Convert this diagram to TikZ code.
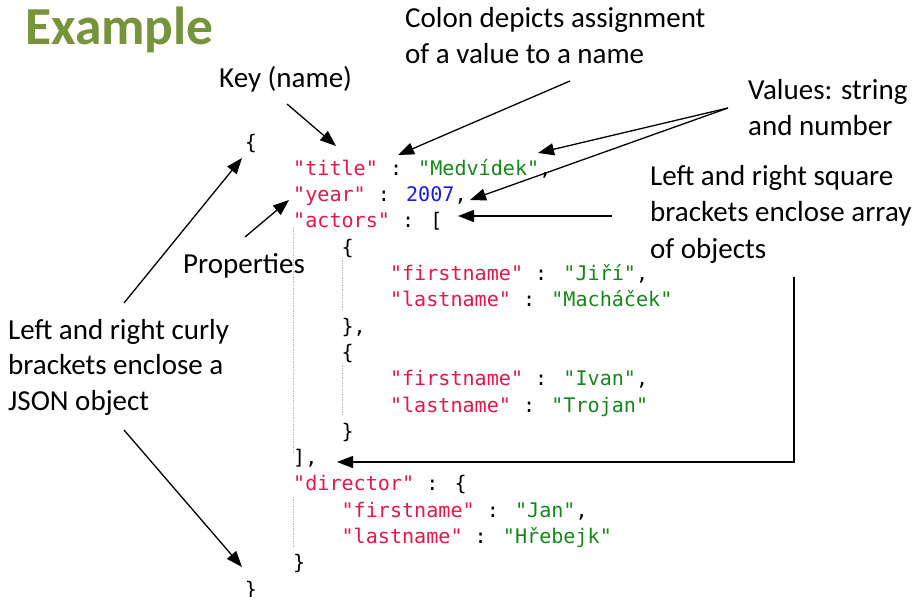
\documentclass[tikz,border=0pt]{standalone}
\usepackage{fontspec}
\setmainfont{Carlito}
\newfontfamily\codefont{DejaVu Sans Mono}
\usetikzlibrary{arrows.meta}

\definecolor{titlegreen}{HTML}{77933C}
\definecolor{keyred}{HTML}{E3174B}
\definecolor{strgreen}{HTML}{16861A}
\definecolor{numblue}{HTML}{1B1BE0}
\newcommand{\jkey}[1]{\textcolor{keyred}{#1}}
\newcommand{\jstr}[1]{\textcolor{strgreen}{#1}}
\newcommand{\jnum}[1]{\textcolor{numblue}{#1}}

\begin{document}
\begin{tikzpicture}[x=1pt,y=-1pt]
    \tikzstyle{note}=[anchor=base west, inner sep=0pt, align=left, font=\fontsize{29}{35.5}\selectfont]
    \tikzstyle{code}=[anchor=base west, inner sep=0pt, font=\codefont\fontsize{20.1}{26}\selectfont]
    \tikzstyle{pointer}=[-{Triangle[length=16pt,width=12pt]}, line width=1.3pt]
    \tikzstyle{guide}=[densely dotted, black!25, line width=0.7pt]

    \useasboundingbox (0,0) rectangle (919,597);

    % Draw the heading
    \node[anchor=base west, inner sep=0pt, text=titlegreen, font=\bfseries\fontsize{53.5}{60}\selectfont] (heading) at (25,44) {Example};

    % Draw the JSON text, one line per node (level = indent step)
    \foreach \name / \lvl / \txt [count=\i from 0] in {
        open/0/{\{},
        title/1/{\jkey{"title"} : \jstr{"Medvídek"},},
        year/1/{\jkey{"year"} : \jnum{2007},},
        actors/1/{\jkey{"actors"} : [},
        actA/2/{\{},
        firstA/3/{\jkey{"firstname"} : \jstr{"Jiří"},},
        lastA/3/{\jkey{"lastname"} : \jstr{"Macháček"}},
        actAend/2/{\},},
        actB/2/{\{},
        firstB/3/{\jkey{"firstname"} : \jstr{"Ivan"},},
        lastB/3/{\jkey{"lastname"} : \jstr{"Trojan"}},
        actBend/2/{\}},
        actorsend/1/{],},
        director/1/{\jkey{"director"} : \{},
        firstD/2/{\jkey{"firstname"} : \jstr{"Jan"},},
        lastD/2/{\jkey{"lastname"} : \jstr{"Hřebejk"}},
        directorend/1/{\}},
        close/0/{\}}}
        \node[code] (\name) at (244.6+48.4*\lvl, 149+26.3*\i) {\txt};

    % Indent guides
    \draw[guide] (293,228) -- (293,453);
    \draw[guide] (342,258) -- (342,310);
    \draw[guide] (342,363) -- (342,415);
    \draw[guide] (293,497) -- (293,547);

    % Draw the notes (a node's base is its last line)
    \node[note] (colonnote) at (405,63) {Colon depicts assignment\\of a value to a name};
    \node[note] (keynote) at (219,87) {Key (name)};
    \node[note] (valuenote) at (748,135) {Values: string\\and number};
    \node[note, font=\fontsize{29}{36.5}\selectfont] (squarenote) at (650,258) {Left and right square\\brackets enclose array\\of objects};
    \node[note] (propnote) at (183,273) {Properties};
    \node[note] (curlynote) at (8,410) {Left and right curly\\brackets enclose a\\JSON object};

    % Ends of the pointers
    \coordinate (key-from) at (287,104);
    \coordinate (key-to) at (336,146);
    \coordinate (colon-from) at (570,81);
    \coordinate (colon-to) at (398,155);
    \coordinate (value-from) at (728,108);
    \coordinate (string-to) at (538,153);
    \coordinate (number-to) at (470,200);
    \coordinate (open-from) at (612,216);
    \coordinate (open-to) at (458,216);
    \coordinate (close-from) at (794,277);
    \coordinate (close-to) at (337,462);
    \coordinate (prop-from) at (245,237);
    \coordinate (prop-to) at (289,200);
    \coordinate (curly-from) at (124,303);
    \coordinate (curly-to) at (242,158);
    \coordinate (curlyend-from) at (124,430);
    \coordinate (curlyend-to) at (242,567);

    % Draw the pointers
    \draw[pointer] (key-from) -- (key-to);
    \draw[pointer] (colon-from) -- (colon-to);
    \draw[pointer] (value-from) -- (string-to);
    \draw[pointer] (value-from) -- (number-to);
    \draw[pointer] (open-from) -- (open-to);
    \draw[pointer] (close-from) |- (close-to);
    \draw[pointer] (prop-from) -- (prop-to);
    \draw[pointer] (curly-from) -- (curly-to);
    \draw[pointer] (curlyend-from) -- (curlyend-to);

\end{tikzpicture}
\end{document}
